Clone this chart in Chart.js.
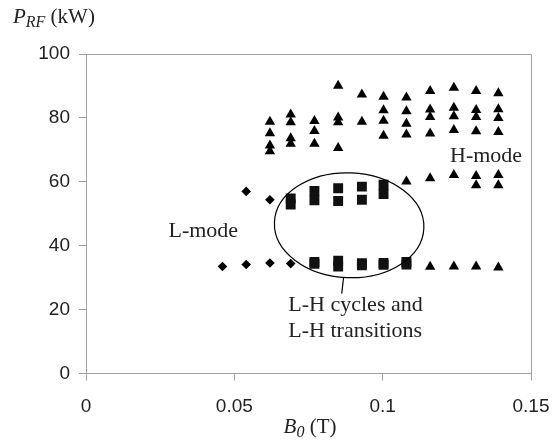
<!DOCTYPE html>
<html>
<head>
<meta charset="utf-8">
<script src="https://cdn.jsdelivr.net/npm/chart.js@4.4.1/dist/chart.umd.min.js"></script>
<style>
  body { margin: 0; background: #fff; }
  #wrap { width: 552px; height: 440px; }
</style>
</head>
<body>
<div id="wrap"><canvas id="grafica"></canvas></div>
<script>
// B0 (T) and P_RF (kW)
const lModeB = [0.046, 0.054, 0.054, 0.062, 0.062, 0.069];
const lModeP = [33.5, 34.1, 57.0, 34.6, 54.4, 34.4];

const cycleB = [0.069, 0.069, 0.077, 0.077, 0.077, 0.077, 0.085, 0.085, 0.085, 0.085,
                0.093, 0.093, 0.093, 0.093, 0.1003, 0.1003, 0.1003, 0.1003, 0.108, 0.108];
const cycleP = [54.8, 52.9, 57.1, 54.2, 34.9, 34.3, 58.0, 54.0, 35.3, 33.5,
                58.5, 54.4, 34.5, 33.9, 59.1, 56.2, 34.6, 34.0, 34.9, 34.1];

const hModeB = [0.062, 0.062, 0.062, 0.062,
                0.069, 0.069, 0.069, 0.069,
                0.077, 0.077, 0.077,
                0.085, 0.085, 0.085, 0.085,
                0.093, 0.093,
                0.1003, 0.1003, 0.1003, 0.1003,
                0.108, 0.108, 0.108, 0.108, 0.108,
                0.116, 0.116, 0.116, 0.116, 0.116, 0.116,
                0.124, 0.124, 0.124, 0.124, 0.124, 0.124,
                0.1315, 0.1315, 0.1315, 0.1315, 0.1315, 0.1315, 0.1315,
                0.139, 0.139, 0.139, 0.139, 0.139, 0.139, 0.139];
const hModeP = [78.8, 75.2, 71.4, 69.6,
                81.1, 78.6, 73.6, 71.9,
                79.0, 75.9, 71.9,
                90.1, 80.1, 78.6, 70.6,
                87.3, 78.8,
                86.6, 82.4, 79.1, 74.4,
                86.4, 82.1, 78.2, 74.8, 60.1,
                88.4, 82.6, 80.3, 75.1, 61.1, 33.4,
                89.4, 83.2, 80.5, 76.2, 62.1, 33.5,
                88.4, 82.5, 80.3, 75.8, 61.8, 58.9, 33.5,
                87.7, 82.7, 80.0, 75.6, 62.1, 58.9, 33.2];

const xTicks = [0, 0.05, 0.1, 0.15];
const xTickLabels = ['0', '0.05', '0.1', '0.15'];
const yTicks = [0, 20, 40, 60, 80, 100];

// ellipse round the L-H points, in data units
const elipseCentro = [0.0887, 46.4];
const elipseRadios = [0.0252, 16.4];
const lineaNota = [[0.0868, 29.9], [0.0862, 25.0]];

const notas = [
    { t: 'L-mode', b: 0.0278, p: 42.8 },
    { t: 'H-mode', b: 0.1227, p: 66.1 },
    { t: 'L-H cycles and', b: 0.0682, p: 19.6 },
    { t: 'L-H transitions', b: 0.0682, p: 11.3 }
];

function puntos(bs, ps) {
    return bs.map((b, i) => ({ x: b, y: ps[i] }));
}

const serif = '"Liberation Serif", "Times New Roman", serif';
const gris = '#a0a0a0';

function textoRico(ctx, x, y, partes) {
    let px = x;
    partes.forEach(([t, font, dy]) => {
        ctx.font = font;
        ctx.fillText(t, px, y + dy);
        px += ctx.measureText(t).width;
    });
    return px - x;
}

const extras = {
    id: 'extras',
    afterDatasetsDraw(chart) {
        const { ctx, chartArea: a, scales: { x, y } } = chart;
        ctx.save();
        ctx.strokeStyle = gris;
        ctx.lineWidth = 1;
        ctx.beginPath();
        ctx.moveTo(Math.round(a.left) + 0.5, Math.round(a.top) + 0.5);
        ctx.lineTo(Math.round(a.right) + 0.5, Math.round(a.top) + 0.5);
        ctx.lineTo(Math.round(a.right) + 0.5, Math.round(a.bottom) + 0.5);
        ctx.stroke();

        const cx = x.getPixelForValue(elipseCentro[0]);
        const cy = y.getPixelForValue(elipseCentro[1]);
        const rx = x.getPixelForValue(elipseCentro[0] + elipseRadios[0]) - cx;
        const ry = cy - y.getPixelForValue(elipseCentro[1] + elipseRadios[1]);
        ctx.strokeStyle = '#000';
        ctx.lineWidth = 1.2;
        ctx.beginPath();
        ctx.ellipse(cx, cy, rx, ry, 0.04, 0, Math.PI * 2);
        ctx.stroke();
        ctx.beginPath();
        ctx.moveTo(x.getPixelForValue(lineaNota[0][0]), y.getPixelForValue(lineaNota[0][1]));
        ctx.lineTo(x.getPixelForValue(lineaNota[1][0]), y.getPixelForValue(lineaNota[1][1]));
        ctx.stroke();

        ctx.fillStyle = '#222';
        ctx.textBaseline = 'alphabetic';
        ctx.textAlign = 'left';
        ctx.font = '22px ' + serif;
        notas.forEach(n => {
            ctx.fillText(n.t, x.getPixelForValue(n.b), y.getPixelForValue(n.p));
        });

        // axis titles
        textoRico(ctx, 13, 23, [
            ['P', 'italic 21px ' + serif, 0],
            ['RF', 'italic 16px ' + serif, 4],
            [' (kW)', '21px ' + serif, 0]
        ]);
        const partesB = [
            ['B', 'italic 21px ' + serif, 0],
            ['0', 'italic 16px ' + serif, 4],
            [' (T)', '21px ' + serif, 0]
        ];
        ctx.globalAlpha = 0;
        const w = textoRico(ctx, 0, 0, partesB);
        ctx.globalAlpha = 1;
        textoRico(ctx, 310 - w / 2, 433, partesB);
        ctx.restore();
    }
};

const ctx = document.getElementById('grafica').getContext('2d');
new Chart(ctx, {
    type: 'scatter',
    data: {
        datasets: [{
            label: 'L-mode',
            data: puntos(lModeB, lModeP),
            pointStyle: 'rectRot',
            pointRadius: 4.8,
            backgroundColor: '#000',
            borderWidth: 0
        }, {
            label: 'L-H',
            data: puntos(cycleB, cycleP),
            pointStyle: 'rect',
            pointRadius: 7,
            backgroundColor: '#111',
            borderWidth: 0
        }, {
            label: 'H-mode',
            data: puntos(hModeB, hModeP),
            pointStyle: 'triangle',
            pointRadius: 6,
            backgroundColor: '#000',
            borderWidth: 0
        }]
    },
    options: {
        responsive: true,
        maintainAspectRatio: false,
        animation: false,
        events: [],
        layout: { padding: { left: 0, right: 21, top: 54, bottom: 0 } },
        plugins: {
            legend: { display: false },
            tooltip: { enabled: false }
        },
        scales: {
            x: {
                type: 'linear',
                min: 0,
                max: 0.15,
                afterBuildTicks: s => { s.ticks = xTicks.map(v => ({ value: v })); },
                afterFit: s => {
                    s.height = 66.5;
                    s.paddingLeft = 0;
                    s.paddingRight = 0;
                },
                ticks: {
                    padding: 15,
                    color: '#222',
                    font: { family: '"Liberation Sans", Arial, sans-serif', size: 19 },
                    callback: (v, i) => xTickLabels[i]
                },
                grid: { display: true, drawOnChartArea: false, drawTicks: true, tickLength: 7, color: gris },
                border: { display: true, color: gris }
            },
            y: {
                type: 'linear',
                min: 0,
                max: 100,
                afterBuildTicks: s => { s.ticks = yTicks.map(v => ({ value: v })); },
                afterFit: s => {
                    s.width = 86;
                    s.paddingTop = 0;
                    s.paddingBottom = 0;
                },
                ticks: {
                    padding: 9,
                    color: '#222',
                    font: { family: '"Liberation Sans", Arial, sans-serif', size: 19 }
                },
                grid: { display: true, drawOnChartArea: false, drawTicks: true, tickLength: 7, color: gris },
                border: { display: true, color: gris }
            }
        }
    },
    plugins: [extras]
});
</script>
</body>
</html>
